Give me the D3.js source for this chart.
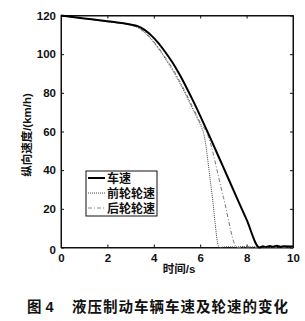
<!DOCTYPE html>
<html><head><meta charset="utf-8">
<script src="https://cdn.jsdelivr.net/npm/d3@7/dist/d3.min.js"></script>
<style>
html,body{margin:0;padding:0;background:#fff;}
text{font-family:"Liberation Sans","Noto Sans CJK SC",sans-serif;font-weight:bold;fill:#111;}
</style></head>
<body>
<svg id="c" width="305" height="321"></svg>
<script>
// ---- data ----
const xTicks = [0, 2, 4, 6, 8, 10];
const yTicks = [0, 20, 40, 60, 80, 100, 120];
const seriesNames = ["车速", "前轮轮速", "后轮轮速"];
const vehicleT = [0, 1, 2, 3, 3.3, 3.6, 3.9, 4.2, 4.5, 4.8, 5.1, 5.4, 5.7, 6.0, 6.4, 7.0, 7.5, 8.0, 8.56, 8.7, 8.85, 9.0, 9.15, 9.3, 9.45, 9.6, 10];
const vehicleV = [120, 118.5, 117, 115.3, 114.5, 112.6, 109.6, 105.7, 101, 95.8, 89.7, 82.9, 75.7, 68.1, 57.6, 41.4, 27.9, 14.4, 0, 0.6, 0.3, 0.8, 0.4, 0.9, 0.4, 0.6, 0.5];
const frontT = [0, 1, 2, 3, 3.3, 3.6, 3.9, 4.2, 4.5, 4.8, 5.1, 5.4, 5.7, 6.0, 6.15, 6.5, 6.82, 7.2, 7.5, 7.8, 8.1, 8.4, 8.6, 10];
const frontV = [120, 118.4, 116.8, 115.0, 113.8, 111.2, 107.5, 102.9, 97.6, 91.9, 85.5, 78.5, 71.0, 63.6, 59.0, 28.5, 0, 0.4, 0.2, 0.5, 0.2, 0.4, 0.2, 0.2];
const rearT = [0, 1, 2, 3, 3.3, 3.6, 3.9, 4.2, 4.5, 4.8, 5.1, 5.4, 5.7, 6.0, 6.3, 7.0, 7.6, 8.0, 8.5, 10];
const rearV = [120, 118.4, 116.8, 115.1, 113.9, 111.5, 107.9, 103.4, 98.2, 92.7, 86.4, 79.4, 72.0, 64.7, 59.0, 26, 0, 0.3, 0, 0];
const xTitle = "时间/s";
const yTitle = "纵向速度/(km/h)";
const caption = ["图 4", "液压制动车辆车速及轮速的变化"];

// ---- layout ----
const svg = d3.select("#c");
const x = d3.scaleLinear().domain([0, 10]).range([61, 293]);
const y = d3.scaleLinear().domain([0, 120]).range([247.5, 15.5]);

// frame
svg.append("rect").attr("x", x(0)).attr("y", y(120)).attr("width", x(10) - x(0)).attr("height", y(0) - y(120))
  .attr("fill", "none").attr("stroke", "#111").attr("stroke-width", 1);

// axes
const ax = svg.append("g").attr("transform", `translate(0,${y(0)})`)
  .call(d3.axisBottom(x).tickValues(xTicks).tickSizeInner(-3).tickSizeOuter(0).tickPadding(6));
const ay = svg.append("g").attr("transform", `translate(${x(0)},0)`)
  .call(d3.axisLeft(y).tickValues(yTicks).tickSizeInner(-3).tickSizeOuter(0).tickPadding(5));
const at = svg.append("g").attr("transform", `translate(0,${y(120)})`)
  .call(d3.axisTop(x).tickValues(xTicks).tickSizeInner(-3).tickSizeOuter(0).tickFormat(""));
const ar = svg.append("g").attr("transform", `translate(${x(10)},0)`)
  .call(d3.axisRight(y).tickValues(yTicks).tickSizeInner(-3).tickSizeOuter(0).tickFormat(""));
[ax, ay, at, ar].forEach(g => {
  g.select(".domain").attr("stroke", "#111");
  g.selectAll(".tick line").attr("stroke", "#111");
  g.selectAll("text").attr("font-size", "11.5px").attr("font-family", "Liberation Sans, sans-serif").attr("font-weight", "bold").attr("fill", "#111");
});
ay.selectAll(".tick").filter(d => d === 0).select("text").attr("dy", "0.55em");

// lines
const line = d3.line().x(d => x(d[0])).y(d => y(d[1])).curve(d3.curveMonotoneX);
const veh = vehicleT.map((t, i) => [t, vehicleV[i]]);
const fr = frontT.map((t, i) => [t, frontV[i]]);
const re = rearT.map((t, i) => [t, rearV[i]]);
svg.append("path").datum(re).attr("d", line).attr("fill", "none").attr("stroke", "#777").attr("stroke-width", 1).attr("stroke-dasharray", "4,2,1,2");
svg.append("path").datum(fr).attr("d", line).attr("fill", "none").attr("stroke", "#444").attr("stroke-width", 1).attr("stroke-dasharray", "1,1");
svg.append("path").datum(veh).attr("d", line).attr("fill", "none").attr("stroke", "#000").attr("stroke-width", 2);

// legend
const lg = svg.append("g");
lg.append("rect").attr("x", 86).attr("y", 171).attr("width", 71).attr("height", 45).attr("fill", "#fff").attr("stroke", "#111").attr("stroke-width", 1);
const styles = [
  {stroke: "#000", w: 2, dash: null},
  {stroke: "#444", w: 1, dash: "1,1"},
  {stroke: "#888", w: 1, dash: "4,2,1,2"}
];
seriesNames.forEach((n, i) => {
  const yy = 178 + i * 15;
  lg.append("line").attr("x1", 88).attr("x2", 105).attr("y1", yy).attr("y2", yy)
    .attr("stroke", styles[i].stroke).attr("stroke-width", styles[i].w).attr("stroke-dasharray", styles[i].dash);
  lg.append("text").attr("x", 107).attr("y", yy + 4.5).attr("font-size", "12px")
    .attr("font-family", "Noto Sans CJK SC, sans-serif").text(n);
});

// axis titles
svg.append("text").attr("x", 179).attr("y", 273).attr("text-anchor", "middle").attr("font-size", "11.5px")
  .attr("font-family", "Noto Sans CJK SC, sans-serif").text(xTitle);
svg.append("text").attr("transform", "translate(31,135) rotate(-90)").attr("text-anchor", "middle").attr("font-size", "11.5px")
  .attr("font-family", "Noto Sans CJK SC, sans-serif").text(yTitle);

// caption
svg.append("text").attr("x", 27).attr("y", 312).attr("font-size", "14.5px").attr("font-family", "Noto Sans CJK SC, sans-serif").attr("font-weight", "900").text(caption[0]);
svg.append("text").attr("x", 72).attr("y", 312).attr("font-size", "14.5px").attr("letter-spacing", "1px").attr("font-family", "Noto Sans CJK SC, sans-serif").attr("font-weight", "900").text(caption[1]);
</script>
</body></html>
